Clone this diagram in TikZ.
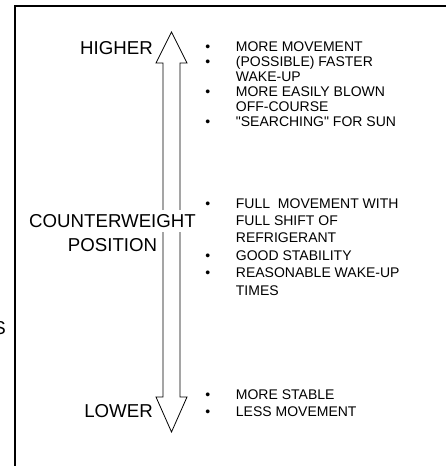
\documentclass[tikz,border=0pt]{standalone}
\usepackage{fontspec}
\setmainfont{Liberation Sans}[Ligatures=TeXOff]
\usetikzlibrary{positioning}
\tikzstyle{big} = [font=\fontsize{14}{18}\selectfont, inner sep=0pt]
\tikzstyle{notes} = [align=left, anchor=north west, inner sep=0pt]
\newcommand{\bl}{\makebox[23pt][l]{\textbullet}}
\newcommand{\nb}{\hspace*{23pt}}

\begin{document}
\begin{tikzpicture}[x=0.75pt, y=-0.75pt]
    \useasboundingbox (0,0) rectangle (446,466);
    % frame
    \draw[line width=1.1pt] (15,466) -- (15,6) -- (446,6);
    % the two headed arrow
    \draw[line width=0.6pt, line join=miter] (171.5,32) -- (187,63) -- (180,63) -- (180,397) -- (187,397) -- (171.5,432) -- (156,397) -- (163,397) -- (163,63) -- (156,63) -- cycle;

    \node[big, anchor=east] (higher) at (153,48) {HIGHER};
    \node[big, anchor=east] (lower) at (153,411) {LOWER};
    \node[big, fill=white, inner sep=3pt] (counter) at (112.5,221) {COUNTERWEIGHT};
    \node[big] (position) at (112.5,245) {POSITION};
    \node[big, anchor=east] (cut) at (6,328) {S};

    \node[notes, font=\fontsize{10.5}{11.25}\selectfont] (up) at (205,41) {\bl MORE MOVEMENT\\ \bl (POSSIBLE) FASTER\\ \nb WAKE-UP\\ \bl MORE EASILY BLOWN\\ \nb OFF-COURSE\\ \bl "SEARCHING" FOR SUN};
    \node[notes, font=\fontsize{10.5}{13.1}\selectfont] (mid) at (205,198) {\bl FULL~\ MOVEMENT WITH\\ \nb FULL SHIFT OF\\ \nb REFRIGERANT\\ \bl GOOD STABILITY\\ \bl REASONABLE WAKE-UP\\ \nb TIMES};
    \node[notes, font=\fontsize{10.5}{12.75}\selectfont] (down) at (205,389) {\bl MORE STABLE\\ \bl LESS MOVEMENT};
 \end{tikzpicture}
\end{document}
